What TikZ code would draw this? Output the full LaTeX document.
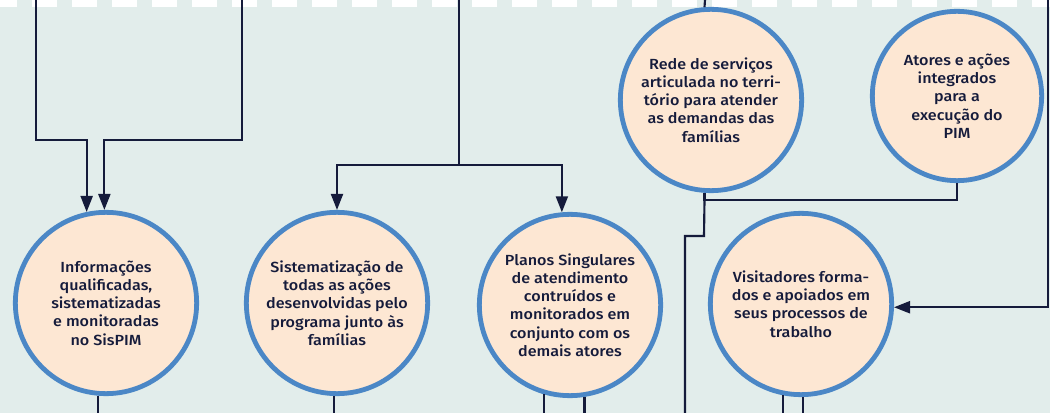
\documentclass[tikz,border=0pt]{standalone}
\usepackage{fontspec}
\setmainfont{Fira Sans Medium}[FakeStretch=1.1]
\usetikzlibrary{arrows.meta}

\definecolor{bgcol}{HTML}{E2EDEB}
\definecolor{peach}{HTML}{FDE7D3}
\definecolor{ringblue}{HTML}{4B87C6}
\definecolor{navy}{HTML}{151B3B}

\tikzset{
  goal/.style={circle, draw=ringblue, line width=3.6pt, fill=peach, inner sep=0pt,
    minimum size=136pt, align=center, text=navy, font=\fontsize{11}{13.7}\selectfont},
  link/.style={draw=navy, line width=1.6pt},
  flow/.style={link, -{Triangle[length=12pt,width=9pt]}}
}

\begin{document}
\begin{tikzpicture}[x=0.75pt, y=-0.75pt]
  \useasboundingbox (0,0) rectangle (1050,413);
  \fill[bgcol] (0,0) rectangle (1050,413);
  % dashed strip on top
  \draw[white, line width=5.25pt, dash pattern=on 18.75pt off 11.25pt, dash phase=6pt] (0,3.5) -- (1050,3.5);

  % circles
  \node[goal] (info) at (106,303) {Informações\\qualificadas,\\sistematizadas\\e monitoradas\\no SisPIM};
  \node[goal] (sist) at (337,303) {Sistematização de\\todas as ações\\desenvolvidas pelo\\programa junto às\\famílias};
  \node[goal] (planos) at (570,305) {Planos Singulares\\de atendimento\\contruídos e\\monitorados em\\conjunto com os\\demais atores};
  \node[goal] (rede) at (711,100) {Rede de serviços\\articulada no terri-\\tório para atender\\as demandas das\\famílias};
  \node[goal, minimum size=127pt] (atores) at (957,96) {Atores e ações\\integrados\\para a\\execução do\\PIM};
  \node[goal] (visit) at (801,304) {Visitadores forma-\\dos e apoiados em\\seus processos de\\trabalho};

  \coordinate (topA) at (36,0);
  \coordinate (topB) at (242,0);
  \coordinate (topC) at (459,0);
  \coordinate (topD) at (705,0);
  \coordinate (topE) at (1048,0);
  \coordinate (bot) at (0,413);

  % incoming lines
  \draw[flow] (topA) -- (36,140) -| (info.102);
  \draw[flow] (topB) -- (242,140) -| (info.91);
  \draw[link] (topC) -- (459,165) coordinate (split);
  \draw[flow] (split) -| (sist.north);
  \draw[flow] (split) -| (planos.95);
  \draw[link] (topD) -- (rede.94);
  \draw[link] (rede.266) -- ++(0,7) coordinate (join) -| (atores.south);
  \draw[link] (join) -- (704,236) -| (685,413);
  \draw[flow] (topE) |- (visit.-2);

  % outgoing lines
  \draw[link] (info.265) -- (info.265 |- bot);
  \draw[link] (sist.268) -- (sist.268 |- bot);
  \draw[link] (planos.254) -- (planos.254 |- bot);
  \draw[link] (planos.279) -- (planos.279 |- bot);
  \draw[link] (visit.259) -- (visit.259 |- bot);
  \draw[link] (visit.271) -- (visit.271 |- bot);
\end{tikzpicture}
\end{document}
